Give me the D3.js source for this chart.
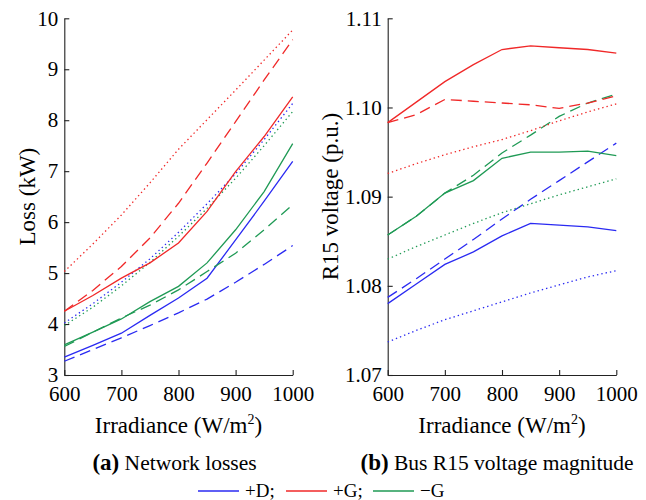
<!DOCTYPE html>
<html>
<head>
<meta charset="utf-8">
<script src="https://cdn.jsdelivr.net/npm/d3@7"></script>
<style>
  body { margin: 0; background: #fff; }
  svg text { font-family: "Times New Roman", "Liberation Serif", Tinos, Times, serif; fill: #000; }
</style>
</head>
<body>
<div id="chart"></div>
<script>
// irradiance (W/m2)
const irradiance = [600, 650, 700, 750, 800, 850, 900, 950, 1000];

// (a) network losses, kW
const lossD_solid  = [3.35, 3.58, 3.82, 4.17, 4.51, 4.90, 5.65, 6.41, 7.19];
const lossD_dash   = [3.27, 3.50, 3.73, 3.97, 4.22, 4.49, 4.82, 5.17, 5.54];
const lossD_dot    = [4.02, 4.40, 4.82, 5.28, 5.80, 6.36, 6.95, 7.62, 8.33];
const lossG_solid  = [4.25, 4.56, 4.90, 5.20, 5.59, 6.21, 6.99, 7.68, 8.46];
const lossG_dash   = [4.25, 4.66, 5.13, 5.69, 6.37, 7.16, 7.97, 8.79, 9.58];
const lossG_dot    = [5.03, 5.57, 6.14, 6.77, 7.43, 8.01, 8.59, 9.18, 9.77];
const lossNG_solid = [3.59, 3.84, 4.10, 4.44, 4.74, 5.20, 5.85, 6.60, 7.54];
const lossNG_dash  = [3.56, 3.84, 4.12, 4.37, 4.67, 5.03, 5.39, 5.85, 6.34];
const lossNG_dot   = [3.97, 4.33, 4.75, 5.21, 5.72, 6.27, 6.86, 7.50, 8.17];

// (b) bus R15 voltage, p.u.
const voltD_solid  = [1.0780, 1.0802, 1.0824, 1.0838, 1.0856, 1.0870, 1.0868, 1.0866, 1.0862];
const voltD_dash   = [1.0787, 1.0808, 1.0830, 1.0852, 1.0875, 1.0897, 1.0918, 1.0939, 1.0960];
const voltD_dot    = [1.0737, 1.0750, 1.0762, 1.0772, 1.0782, 1.0792, 1.0801, 1.0810, 1.0817];
const voltG_solid  = [1.0983, 1.1006, 1.1029, 1.1048, 1.1065, 1.1069, 1.1067, 1.1065, 1.1061];
const voltG_dash   = [1.0983, 1.0992, 1.1009, 1.1007, 1.1005, 1.1003, 1.0999, 1.1005, 1.1013];
const voltG_dot    = [1.0926, 1.0937, 1.0947, 1.0956, 1.0964, 1.0974, 1.0985, 1.0995, 1.1004];
const voltNG_solid = [1.0857, 1.0878, 1.0904, 1.0918, 1.0943, 1.0950, 1.0950, 1.0951, 1.0946];
const voltNG_dash  = [1.0857, 1.0878, 1.0904, 1.0924, 1.0949, 1.0969, 1.0990, 1.1005, 1.1015];
const voltNG_dot   = [1.0830, 1.0844, 1.0857, 1.0870, 1.0882, 1.0892, 1.0902, 1.0911, 1.0920];

const xTicks = [600, 700, 800, 900, 1000];
const lossTicks = [3, 4, 5, 6, 7, 8, 9, 10];
const voltTicks = [1.07, 1.08, 1.09, 1.10, 1.11];

const legendLabels = ["+D;", "+G;", "\u2212G"];
const colors = ["#2a2af2", "#f02828", "#1f9a55"];
const dashes = { solid: null, dash: "11,6", dot: "1.4,3" };
const serif = '"Times New Roman", "Liberation Serif", Tinos, Times, serif';

const svg = d3.select("#chart").append("svg")
    .attr("width", 646)
    .attr("height", 500);

function drawPanel(x0, x1, yDomain, ticks, fmt, series, yTitle, titleX, caption, captionX) {
    var x = d3.scaleLinear().domain([600, 1000]).range([x0, x1]);
    var y = d3.scaleLinear().domain(yDomain).range([375, 18.3]);
    var g = svg.append("g");

    // axes, ticks pointing inward
    g.append("g")
        .attr("transform", "translate(0,375)")
        .call(d3.axisBottom(x).tickValues(xTicks).tickSizeInner(-5).tickSizeOuter(0).tickPadding(11).tickFormat(d3.format("d")))
        .attr("font-family", serif)
        .call(a => a.selectAll("text").attr("font-size", 21));
    g.append("g")
        .attr("transform", `translate(${x0},0)`)
        .call(d3.axisLeft(y).tickValues(ticks).tickSizeInner(-5).tickSizeOuter(0).tickPadding(6).tickFormat(fmt))
        .attr("font-family", serif)
        .call(a => a.selectAll("text").attr("font-size", 21));
    g.selectAll(".domain, .tick line").attr("stroke", "#222").attr("stroke-width", 1.1);

    var line = d3.line()
        .x((d, i) => x(irradiance[i]))
        .y(d => y(d));

    series.forEach(s => {
        g.append("path")
            .datum(s.values)
            .attr("d", line)
            .attr("fill", "none")
            .attr("stroke", s.color)
            .attr("stroke-width", 1.3)
            .attr("stroke-dasharray", dashes[s.style]);
    });

    // y title
    g.append("text")
        .attr("transform", `translate(${titleX},196.6) rotate(-90)`)
        .attr("text-anchor", "middle")
        .attr("font-size", 23)
        .text(yTitle);

    // x title
    var xt = g.append("text")
        .attr("x", (x0 + x1) / 2)
        .attr("y", 433)
        .attr("text-anchor", "middle")
        .attr("font-size", 23);
    xt.append("tspan").text("Irradiance (W/m");
    xt.append("tspan").attr("font-size", 14).attr("dy", -9).text("2");
    xt.append("tspan").attr("dy", 9).text(")");

    // caption
    var ct = g.append("text")
        .attr("x", captionX)
        .attr("y", 470)
        .attr("text-anchor", "middle")
        .attr("font-size", 21.5);
    ct.append("tspan").attr("font-weight", "bold").attr("font-size", 23).text(caption[0]);
    ct.append("tspan").text(" " + caption[1]);
}

drawPanel(64.3, 292.7, [3, 10], lossTicks, d3.format("d"), [
    { values: lossD_solid, color: colors[0], style: "solid" },
    { values: lossD_dash, color: colors[0], style: "dash" },
    { values: lossD_dot, color: colors[0], style: "dot" },
    { values: lossNG_solid, color: colors[2], style: "solid" },
    { values: lossNG_dash, color: colors[2], style: "dash" },
    { values: lossNG_dot, color: colors[2], style: "dot" },
    { values: lossG_solid, color: colors[1], style: "solid" },
    { values: lossG_dash, color: colors[1], style: "dash" },
    { values: lossG_dot, color: colors[1], style: "dot" }
], "Loss (kW)", 35, ["(a)", "Network losses"], 174.5);

drawPanel(387.7, 616.3, [1.07, 1.11], voltTicks, d3.format(".2f"), [
    { values: voltD_solid, color: colors[0], style: "solid" },
    { values: voltD_dash, color: colors[0], style: "dash" },
    { values: voltD_dot, color: colors[0], style: "dot" },
    { values: voltNG_solid, color: colors[2], style: "solid" },
    { values: voltNG_dash, color: colors[2], style: "dash" },
    { values: voltNG_dot, color: colors[2], style: "dot" },
    { values: voltG_solid, color: colors[1], style: "solid" },
    { values: voltG_dash, color: colors[1], style: "dash" },
    { values: voltG_dot, color: colors[1], style: "dot" }
], "R15 voltage (p.u.)", 338, ["(b)", "Bus R15 voltage magnitude"], 497);

// legend along the bottom
var legendX = [198, 286, 373];
legendLabels.forEach((lab, i) => {
    svg.append("line")
        .attr("x1", legendX[i]).attr("x2", legendX[i] + 41)
        .attr("y1", 491).attr("y2", 491)
        .attr("stroke", colors[i]).attr("stroke-width", 1.3);
    svg.append("text")
        .attr("x", legendX[i] + 47)
        .attr("y", 497)
        .attr("font-size", 19)
        .text(lab);
});
</script>
</body>
</html>
